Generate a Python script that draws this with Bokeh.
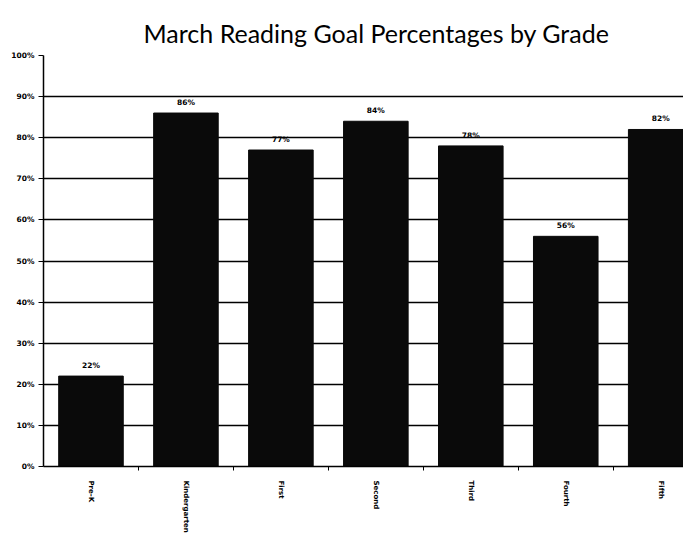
import math
from bokeh.plotting import figure
from bokeh.models import Range1d, FixedTicker, ColumnDataSource, Title
from bokeh.core.properties import value
from bokeh.embed import file_html
from bokeh.resources import INLINE

grades = ["Pre-K", "Kindergarten", "First", "Second", "Third", "Fourth", "Fifth"]
percents = [22, 86, 77, 84, 78, 56, 82]
y_ticks = [0, 10, 20, 30, 40, 50, 60, 70, 80, 90, 100]
y_tick_labels = [f"{t}%" for t in y_ticks]
bar_labels = [f"{v}%" for v in percents]

xs = [i + 0.5 for i in range(len(grades))]
src = ColumnDataSource(dict(x=xs, top=percents, lab=bar_labels))

p = figure(width=683, height=535, output_backend="svg", toolbar_location=None,
           x_range=Range1d(0, 6.74), y_range=Range1d(0, 100),
           min_border_left=43, min_border_right=0, min_border_top=55,
           min_border_bottom=68)
p.outline_line_color = None
p.background_fill_color = "white"
p.border_fill_color = "white"

p.title = Title(text="March Reading Goal Percentages by Grade", align="left",
                text_font="Lato", text_font_size="25px", text_font_style="normal",
                text_color="black", standoff=16, offset=100)

p.vbar(x="x", top="top", width=0.68, bottom=0, source=src,
       fill_color="#0a0a0a", line_color="#0a0a0a")
p.text(x="x", y="top", text="lab", source=src, y_offset=-6,
       text_align="center", text_baseline="bottom",
       text_font=value("DejaVu Sans"), text_font_size="7.5px",
       text_font_style="bold", text_color="black")

# y axis
p.yaxis.ticker = FixedTicker(ticks=y_ticks)
p.yaxis.major_label_overrides = {t: l for t, l in zip(y_ticks, y_tick_labels)}
p.yaxis.major_label_text_font = "DejaVu Sans"
p.yaxis.major_label_text_font_style = "bold"
p.yaxis.major_label_text_font_size = "7.5px"
p.yaxis.major_label_text_color = "black"
p.yaxis.axis_line_color = "black"
p.yaxis.axis_line_width = 1.5
p.yaxis.major_tick_out = 5
p.yaxis.major_tick_in = 0
p.yaxis.major_tick_line_color = "black"
p.yaxis.minor_tick_line_color = None
p.yaxis.major_label_standoff = 4

# x axis
p.xaxis.ticker = FixedTicker(ticks=xs, minor_ticks=[float(i) for i in range(1, 7)])
p.xaxis.major_label_overrides = {x: g for x, g in zip(xs, grades)}
p.xaxis.major_label_orientation = -math.pi / 2
p.xaxis.major_label_text_font = "DejaVu Sans"
p.xaxis.major_label_text_font_style = "bold"
p.xaxis.major_label_text_font_size = "7px"
p.xaxis.major_label_text_color = "black"
p.xaxis.major_tick_line_color = None
p.xaxis.major_tick_out = 0
p.xaxis.major_tick_in = 0
p.xaxis.minor_tick_out = 4
p.xaxis.minor_tick_in = 0
p.xaxis.minor_tick_line_color = "black"
p.xaxis.axis_line_color = "black"
p.xaxis.axis_line_width = 1.5
p.xaxis.major_label_standoff = 10

p.xgrid.grid_line_color = None
p.ygrid.grid_line_color = "black"
p.ygrid.grid_line_width = 1.3
p.ygrid.level = "underlay"

open("out.html", "w").write(file_html(p, INLINE))
